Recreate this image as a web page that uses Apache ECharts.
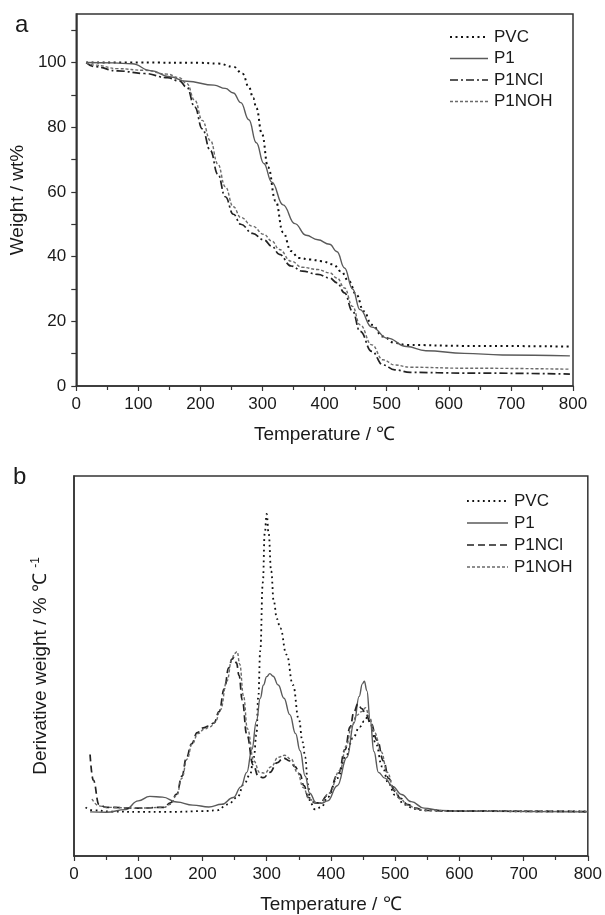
<!DOCTYPE html>
<html>
<head>
<meta charset="utf-8">
<script src="https://cdn.jsdelivr.net/npm/echarts@6/dist/echarts.min.js"></script>
<style>
  html, body { margin: 0; padding: 0; background: #fff; }
  #main { width: 605px; height: 915px; }
</style>
</head>
<body>
<div id="main"></div>
<script>
// series names (legend order)
var names = ['PVC', 'P1', 'P1NCl', 'P1NOH'];

// (a) TGA: [temperature ℃, weight %]
var tgaPVC = [[16,100],[100,100],[200,99.9],[228,99.7],[253,98.7],[268,96.5],[278,92.4],[285,89],[290,86],[299,78],
  [309,67.6],[321,57.2],[333,47.5],[346,41.7],[358,39.6],[377,39.1],[395,38.6],[414,37.6],[426,35.5],[439,32.4],
  [451,28.3],[463,23.1],[476,18.9],[494,15.3],[513,13.3],[532,12.7],[625,12.4],[795,12.2]];
var tgaP1 = [[16,100],[60,99.9],[90,99.6],[120,97.5],[150,95.6],[178,94.2],[222,93],[240,92],[253,90.6],[265,87.6],
  [278,82.3],[290,75.2],[302,68.8],[315,63],[333,56],[352,50.2],[370,46.6],[389,45.2],[408,43.8],[420,41.5],
  [432,36.5],[445,30],[457,23.6],[476,18.2],[501,14.8],[532,12.2],[563,10.9],[625,10.1],[686,9.6],[795,9.3]];
var tgaP1NCl = [[16,100],[30,98.7],[67,97.4],[110,96.6],[147,95.3],[166,94.3],[178,92.4],[191,86.2],[203,79.5],[216,72.8],
  [228,65.5],[240,58.5],[253,53.1],[265,50],[284,47.2],[302,45.2],[315,43.2],[327,40.7],[346,37.1],[364,35.5],
  [389,34.5],[408,33.4],[420,31.9],[432,28.8],[445,23.1],[457,16.9],[476,10.7],[494,6.5],[513,5],[538,4.2],[625,4],[795,3.7]];
var tgaP1NOH = [[16,100],[30,99.2],[67,98.1],[110,97.6],[147,96.4],[166,95.3],[178,93.5],[191,88.3],[203,82.1],[216,75.9],
  [228,68.6],[240,61.6],[253,55.4],[265,52.1],[284,49.4],[302,46.9],[315,44.8],[327,42.2],[346,38.6],[364,36.7],
  [389,36],[408,35],[420,33.4],[432,30.3],[445,24.6],[457,18.9],[476,12.7],[494,8.1],[513,6.5],[538,5.8],[625,5.5],[795,5.2]];

// (b) DTG: [temperature ℃, derivative weight (arbitrary units)]
var dtgPVC = [[18,12.8],[30,12],[60,11.7],[100,11.6],[150,11.6],[200,11.8],[222,12],[240,13.6],[254,15.4],[265,19],
  [274,21.4],[280,26],[284,31.9],[287,42],[290,54],[294,72],[297,85],[300,90],[303,85],[307,75],[311,67],[316,62.4],
  [321,60],[331,53],[341,45],[350,36],[356,30],[360,26],[364,19],[368,14],[375,12.3],[385,12.8],[395,15.5],[410,20.5],
  [424,26.5],[434,31],[445,34],[452,35.5],[457,36.5],[462,34.5],[470,29.5],[480,23.5],[490,19],[500,16],[515,13.5],
  [530,12.4],[545,12],[600,11.8],[800,11.7]];
var dtgP1 = [[25,11.6],[50,11.5],[80,12.2],[100,14.5],[118,15.7],[138,15.5],[160,14.2],[185,13.4],[210,12.9],[230,13.6],
  [248,15.4],[260,18.2],[269,22],[277,28],[284,35.5],[290,41.5],[295,45],[300,47.2],[305,48],[310,47.3],[318,45],
  [327,41.5],[336,37.2],[345,32.2],[352,27.7],[360,21],[367,16.5],[377,14],[385,13.9],[395,14.5],[410,18.5],[425,26],
  [436,35],[444,42],[449,45.3],[452,46],[456,43.5],[461,36],[467,27.5],[474,22],[484,20.5],[496,18.3],[510,16.2],
  [525,14.3],[545,12.6],[570,12],[600,11.8],[800,11.6]];
var dtgP1NCl = [[25,26.7],[30,20],[39,13.5],[50,12.8],[100,12.6],[140,12.8],[150,14],[160,16.3],[168,21],[175,25.8],
  [183,29.5],[192,32.5],[201,33.7],[210,34.2],[218,35],[226,38],[234,44],[241,49.5],[246,51.8],[249,52.2],
  [253,50.8],[257,47.5],[262,41],[269,32],[279,24],[287,21],[295,20.6],[305,22],[316,24.5],[326,25.8],[336,25],
  [344,23.5],[352,21.5],[358,18.5],[365,15.4],[375,14],[383,14],[395,16],[412,21.8],[422,28],[430,34],[436,38],
  [442,40],[448,38.8],[454,37.5],[462,35],[472,30.5],[482,25],[490,20.4],[500,17],[508,15.2],[520,13.5],[532,12.6],
  [544,12],[600,11.8],[800,11.7]];
var dtgP1NOH = [[28,15],[39,13.2],[50,12.8],[100,12.6],[140,12.8],[150,13.6],[160,16],[168,20.5],[176,25.5],
  [184,29.5],[193,32.2],[203,33.4],[212,34],[220,35.3],[228,38.5],[238,46],[246,52],[250,53.3],[254,53.8],[258,50.5],
  [264,42],[270,33.5],[280,25],[289,22],[297,21.8],[307,23.5],[318,26],[328,26.5],[338,25.5],[348,22],[357,18],
  [366,15],[377,14],[384,14],[397,16.5],[414,22.5],[424,29],[432,34],[440,37],[448,38],[454,39],[460,36.5],[468,32.5],
  [478,27.5],[488,22],[498,17.5],[508,15],[520,13.4],[532,12.5],[544,12],[600,11.8],[800,11.7]];

// line looks (same order as names)
var lookA = [
  { color: '#111', width: 2, type: [2, 3.5] },
  { color: '#5a5a5a', width: 1.4, type: 'solid' },
  { color: '#222', width: 1.7, type: [8, 3, 2, 3] },
  { color: '#6a6a6a', width: 1.4, type: [3, 2] }
];
var lookB = [
  { color: '#111', width: 1.8, type: [1.8, 3.5] },
  { color: '#5a5a5a', width: 1.4, type: 'solid' },
  { color: '#222', width: 1.7, type: [7, 4] },
  { color: '#6a6a6a', width: 1.4, type: [3, 2] }
];

var font = 'Liberation Sans, Arial, sans-serif';
var ink = '#1a1a1a';

function mkSeries(data, look, idx, name) {
  return {
    name: name, type: 'line', xAxisIndex: idx, yAxisIndex: idx,
    data: data, showSymbol: false, symbol: 'none', smooth: 0.45, smoothMonotone: 'x',
    lineStyle: { color: look.color, width: look.width, type: look.type },
    silent: true, animation: false
  };
}

function mkLegend(x, y, step, len, looks) {
  var out = [];
  names.forEach(function (n, i) {
    var yy = y + i * step;
    out.push({
      type: 'line', silent: true,
      shape: { x1: x, y1: yy, x2: x + len, y2: yy },
      style: { stroke: looks[i].color, lineWidth: looks[i].width,
               lineDash: looks[i].type === 'solid' ? null : looks[i].type }
    });
    out.push({
      type: 'text', silent: true, x: x + len + 6, y: yy,
      style: { text: n, fill: ink, font: '17px ' + font, textVerticalAlign: 'middle' }
    });
  });
  return out;
}

function xAx(idx) {
  return {
    type: 'value', gridIndex: idx, min: 0, max: 800, interval: 100,
    name: 'Temperature / ℃', nameLocation: 'middle', nameGap: 39,
    nameTextStyle: { fontSize: 19, color: ink, fontFamily: font },
    axisLine: { lineStyle: { color: '#333', width: 1.5 } },
    axisTick: { length: 5, lineStyle: { color: '#333', width: 1.2 } },
    minorTick: { show: true, splitNumber: 2, length: 4, lineStyle: { color: '#333', width: 1.2 } },
    axisLabel: { fontSize: 17, color: ink, fontFamily: font, margin: 10 },
    splitLine: { show: false }
  };
}

var chart = echarts.init(document.getElementById('main'));
var seriesA = [tgaPVC, tgaP1, tgaP1NCl, tgaP1NOH];
var seriesB = [dtgPVC, dtgP1, dtgP1NCl, dtgP1NOH];

chart.setOption({
  backgroundColor: '#fff',
  animation: false,
  title: [
    { text: 'a', left: 10, top: 8, textStyle: { fontSize: 24, fontWeight: 'normal', color: ink, fontFamily: font } },
    { text: 'b', left: 8, top: 460, textStyle: { fontSize: 24, fontWeight: 'normal', color: ink, fontFamily: font } }
  ],
  grid: [
    { left: 74, right: 32, top: 14, height: 372, show: true, borderColor: '#333', borderWidth: 1.5 },
    { left: 74, right: 17, top: 476, bottom: 56, show: true, borderColor: '#333', borderWidth: 1.5 }
  ],
  xAxis: [xAx(0), xAx(1)],
  yAxis: [
    {
      type: 'value', gridIndex: 0, min: 0, max: 115, interval: 10,
      name: 'Weight / wt%', nameLocation: 'middle', nameGap: 46,
      nameTextStyle: { fontSize: 19, color: ink, fontFamily: font },
      axisLine: { show: true, lineStyle: { color: '#333', width: 1.5 } },
      axisTick: { length: 5, lineStyle: { color: '#333', width: 1.2 } },
      axisLabel: { fontSize: 17, color: ink, fontFamily: font, margin: 10, showMaxLabel: false,
        formatter: function (v) { return (v % 20 === 0 && v <= 100) ? v : ''; } },
      splitLine: { show: false }
    },
    {
      type: 'value', gridIndex: 1, min: 0, max: 100,
      name: 'Derivative weight / % ℃ {sup|-1}', nameLocation: 'middle', nameGap: 22,
      nameTextStyle: { fontSize: 19, color: ink, fontFamily: font,
        rich: { sup: { fontSize: 12, color: ink, fontFamily: font, verticalAlign: 'bottom', padding: [0, 0, 10, 0] } } },
      axisLine: { show: true, lineStyle: { color: '#333', width: 1.5 } },
      axisTick: { show: false },
      axisLabel: { show: false },
      splitLine: { show: false }
    }
  ],
  series: seriesA.map(function (d, i) { return mkSeries(d, lookA[i], 0, names[i]); })
    .concat(seriesB.map(function (d, i) { return mkSeries(d, lookB[i], 1, names[i]); })),
  graphic: mkLegend(450, 37, 21.5, 38, lookA).concat(mkLegend(467, 501, 22, 41, lookB))
});
</script>
</body>
</html>
